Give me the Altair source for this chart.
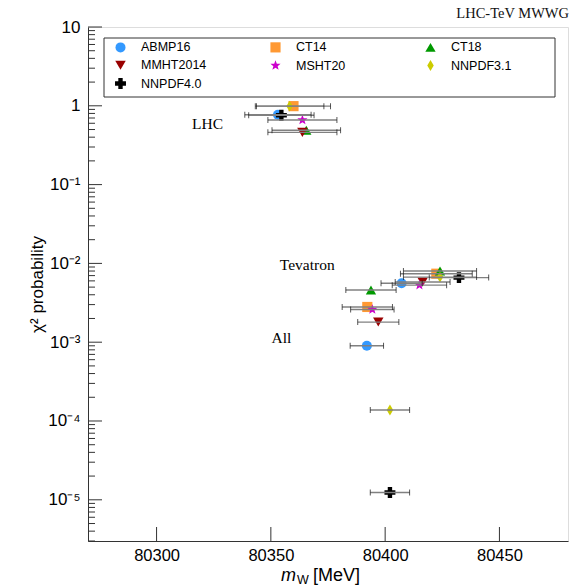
import math
import altair as alt
import pandas as pd

# ---------------- data ----------------
pdfs = ["ABMP16", "CT14", "CT18", "MMHT2014", "MSHT20", "NNPDF3.1", "NNPDF4.0"]
colors = ["#3399ff", "#ff9933", "#009900", "#990000", "#cc00cc", "#cccc00", "#000000"]

# LHC combination
mw_lhc = [80353.1, 80359.9, 80365.5, 80363.8, 80363.8, 80358.2, 80354.6]
err_lhc = [14.5, 16.2, 15.0, 15.1, 15.1, 15.0, 14.3]
p_lhc = [0.77, 0.99, 0.49, 0.46, 0.66, 0.99, 0.76]

# Tevatron combination
mw_tev = [80407.2, 80422.4, 80424.0, 80416.4, 80415.0, 80424.0, 80432.3]
err_tev = [9.0, 15.7, 16.0, 12.0, 11.9, 16.0, 13.0]
p_tev = [0.0056, 0.0074, 0.0080, 0.0058, 0.0053, 0.0067, 0.0066]

# All (LHC + Tevatron)
mw_all = [80392.0, 80392.2, 80393.8, 80397.0, 80394.4, 80402.1, 80402.1]
err_all = [7.3, 11.0, 11.0, 9.0, 9.5, 8.6, 8.6]
p_all = [0.0009, 0.0028, 0.0046, 0.0018, 0.0026, 0.000138, 0.0000124]

group_names = ["LHC", "Tevatron", "All"]
group_label_mw = [80322.3, 80365.9, 80354.6]
group_label_p = [0.588, 0.00957, 0.001135]

x_major = [80300, 80350, 80400, 80450]
y_major = [1e-5, 1e-4, 1e-3, 1e-2, 1e-1, 1, 10]
y_minor = [k * 10.0 ** e for e in range(-6, 1) for k in range(2, 10)
           if 3e-6 <= k * 10.0 ** e <= 10]

# ---------------- marker shapes ----------------
star_pts = []
for k in range(10):
    r = 1.0 if k % 2 == 0 else 0.42
    a = -math.pi / 2 + k * math.pi / 5
    star_pts.append(f"{r * math.cos(a):.3f},{r * math.sin(a):.3f}")
star_path = "M" + "L".join(star_pts) + "Z"
diamond_path = "M0,-1L0.6,0L0,1L-0.6,0Z"
shapes = ["circle", "square", "triangle-up", "triangle-down", star_path, diamond_path, "cross"]
sizes = [100, 120, 130, 130, 110, 110, 130]

rows = []
for g, mws, errs, ps in [("LHC", mw_lhc, err_lhc, p_lhc),
                         ("Tevatron", mw_tev, err_tev, p_tev),
                         ("All", mw_all, err_all, p_all)]:
    for name, m, e, p in zip(pdfs, mws, errs, ps):
        rows.append(dict(group=g, pdf=name, mw=m, lo=m - e, hi=m + e, p=p))
df = pd.DataFrame(rows)

FONT = "Liberation Sans"
SERIF = "Liberation Serif"

xs = alt.Scale(domain=[80270, 80480], nice=False, zero=False)
ys = alt.Scale(type="log", domain=[3e-6, 10], nice=False)

label_expr = ("datum.value >= 10 ? '10' : datum.value >= 1 ? '1' : "
              "'10⁻' + ['', '¹', '²', '³', '⁴', '⁵', '⁶'][round(-log(datum.value) / LN10)]")

xaxis = alt.Axis(values=x_major, format="d", ticks=False, grid=False,
                 labelFont=FONT, labelFontSize=16.5, labelColor="black",
                 labelPadding=6, domainColor="#333")
yaxis = alt.Axis(values=y_major, labelExpr=label_expr, ticks=False, grid=False,
                 labelFont=FONT, labelFontSize=17, labelColor="black",
                 labelPadding=8, domainColor="#333",
                 titleFont=FONT, titleFontSize=17, titleFontWeight="normal",
                 titleColor="black", titleX=-51, titleY=257,
                 titleAngle=270, titleAlign="center", titleBaseline="middle")
YTITLE = "χ² probability"


def X(field):
    return alt.X(field, scale=xs, axis=xaxis, title=None)


def Y(field):
    return alt.Y(field, scale=ys, axis=yaxis, title=YTITLE)


leg = alt.Legend(
    orient="none", legendX=26, legendY=14, columns=3, direction="horizontal",
    title=None, labelFont=FONT, labelFontSize=12.5, labelColor="black",
    symbolSize=110, labelOffset=14, rowPadding=5, columnPadding=62,
    gridAlign="all", padding=0,
)

box = alt.Chart(pd.DataFrame({"a": [0]})).mark_rect(
    fill="white", stroke="#333", strokeWidth=1
).encode(x=alt.value(16), x2=alt.value(467), y=alt.value(11), y2=alt.value(70))

bars = alt.Chart(df).mark_rule(color="#808080", strokeWidth=1.4).encode(
    x=X("lo:Q"), x2="hi:Q", y=Y("p:Q"))
cap_lo = alt.Chart(df).mark_tick(orient="vertical", color="#111", size=6, thickness=1).encode(
    x=X("lo:Q"), y=Y("p:Q"))
cap_hi = alt.Chart(df).mark_tick(orient="vertical", color="#111", size=6, thickness=1).encode(
    x=X("hi:Q"), y=Y("p:Q"))

points = alt.Chart(df).mark_point(filled=True, opacity=1, strokeWidth=0).encode(
    x=X("mw:Q"),
    y=Y("p:Q"),
    color=alt.Color("pdf:N", scale=alt.Scale(domain=pdfs, range=colors), legend=leg),
    shape=alt.Shape("pdf:N", scale=alt.Scale(domain=pdfs, range=shapes), legend=leg),
    size=alt.Size("pdf:N", scale=alt.Scale(domain=pdfs, range=sizes), legend=None),
)

glabels = alt.Chart(pd.DataFrame({"name": group_names, "mw": group_label_mw,
                                  "p": group_label_p})).mark_text(
    font=SERIF, fontSize=15.5, color="black", baseline="middle", align="center"
).encode(x=X("mw:Q"), y=Y("p:Q"), text="name:N")

ymaj = alt.Chart(pd.DataFrame({"v": y_major})).mark_rule(color="#333", strokeWidth=1).encode(
    y=Y("v:Q"), x=alt.value(0), x2=alt.value(14))
ymin = alt.Chart(pd.DataFrame({"v": y_minor})).mark_rule(color="#333", strokeWidth=1).encode(
    y=Y("v:Q"), x=alt.value(0), x2=alt.value(7))
xmaj = alt.Chart(pd.DataFrame({"v": x_major})).mark_rule(color="#333", strokeWidth=1).encode(
    x=X("v:Q"), y=alt.value(514), y2=alt.value(500))

one = pd.DataFrame({"a": [0]})
t_title = alt.Chart(one).mark_text(text="LHC-TeV MWWG", font=SERIF, fontSize=14.5,
                                   align="right", baseline="alphabetic", color="#111").encode(
    x=alt.value(481), y=alt.value(-9))
t_m = alt.Chart(one).mark_text(text="m", font=FONT, fontSize=18, fontStyle="italic",
                               align="left", baseline="alphabetic", color="black").encode(
    x=alt.value(193), y=alt.value(554))
t_w = alt.Chart(one).mark_text(text="W", font=FONT, fontSize=12.5,
                               align="left", baseline="alphabetic", color="black").encode(
    x=alt.value(209), y=alt.value(557))
t_u = alt.Chart(one).mark_text(text="[MeV]", font=FONT, fontSize=18,
                               align="left", baseline="alphabetic", color="black").encode(
    x=alt.value(225), y=alt.value(554))

chart = alt.layer(
    points, box, ymin, ymaj, xmaj, bars, cap_lo, cap_hi, glabels,
    t_title, t_m, t_w, t_u
).properties(
    width=480, height=514,
    autosize=alt.AutoSizeParams(type="none"),
    padding={"left": 88, "top": 27, "right": 12, "bottom": 46},
).configure_view(stroke="#333", strokeWidth=1).configure(background="white")

chart.save("out.html", embed_options={"renderer": "svg", "actions": False})
